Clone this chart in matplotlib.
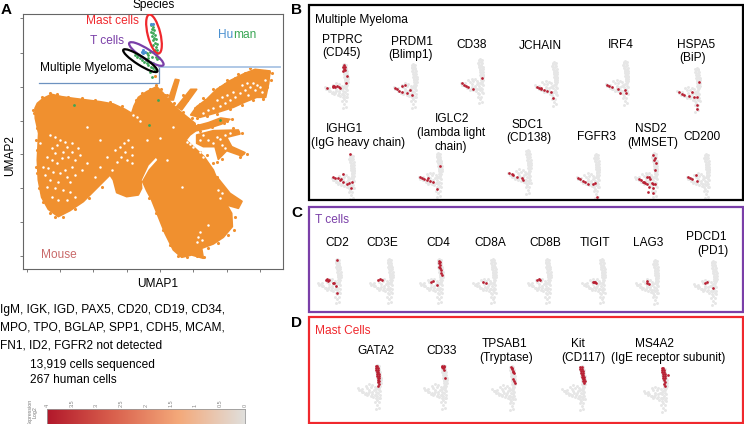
import matplotlib
matplotlib.use("Agg")
import matplotlib.pyplot as plt
from matplotlib.patches import Polygon, Ellipse, Rectangle
from matplotlib.colors import LinearSegmentedColormap
import numpy as np

plt.rcParams['font.family'] = ['Liberation Sans', 'DejaVu Sans']

W, H = 744, 424

# main UMAP (units: 100 = one tick)
x_ticks = [80, 180, 280, 380, 480, 580, 680, 780]
y_ticks = [55, 158, 260, 362, 463, 565, 667, 768]

mouse_outline = [(105,325),(112,310),(130,295),(155,283),(185,290),(220,295),(260,300),(300,305),
    (340,312),(375,328),(395,340),(402,318),(415,292),(440,275),(470,260),(490,280),(510,305),
    (535,330),(560,350),(585,370),(588,392),(570,405),(558,420),(585,445),(612,470),(640,510),
    (660,560),(672,600),(695,640),(697,680),(670,712),(640,732),(605,745),(610,775),
    (575,765),(545,772),(520,750),(495,700),(475,650),(455,600),(440,572),(428,545),(448,510),
    (475,480),(468,470),(444,495),(423,540),(425,565),(415,585),(380,590),(350,578),(340,540),
    (330,525),(290,565),(250,605),(210,632),(175,650),(145,628),(125,592),(115,540),(112,480),
    (116,400),(106,355)]

wing_outline = [(572,345),(590,320),(620,298),(650,268),(690,242),(730,222),(765,208),(810,213),
    (806,250),(797,292),(770,292),(735,306),(700,322),(650,338),(600,352)]
mid_arm = [(588,378),(625,368),(662,354),(690,358),(665,372),(625,385),(590,392)]
low_arm = [(590,405),(640,392),(715,390),(720,402),(680,412),(695,440),(735,458),(725,468),(680,452),
    (655,478),(645,440),(610,440),(590,430)]
spike_a = [(526,238),(537,240),(520,300),(505,300)]
spike_b = [(572,268),(590,268),(545,330),(530,320)]
right_bump = [(650,530),(690,580),(726,604),(715,625),(680,615),(650,580)]

mouse_dots = [(585,325),(600,312),(615,300),(630,290),(645,275),(660,262),(675,252),(690,245),
    (705,235),(720,228),(735,220),(750,215),(765,210),(780,213),(795,212),(808,215),
    (800,260),(795,280),(790,290),(775,285),(663,362),(680,362),(715,395),(730,460),
    (465,228),(600,455),(620,465),(640,490),(700,595),(560,300),(548,285),(495,285),(500,300),
    # rough edge of the big mass and the arms
    (103,340),(100,330),(110,365),(112,385),(108,420),(110,450),(107,500),(112,520),(118,565),
    (128,605),(150,640),(165,652),(190,650),(225,628),(268,595),(305,560),(125,292),(150,280),
    (170,283),(205,290),(245,295),(285,300),(330,305),(365,318),(408,300),(425,280),(450,268),
    (468,255),(482,268),(500,285),(522,310),(548,335),(575,355),(593,375),(598,480),(625,500),
    (650,530),(668,570),(680,610),(705,650),(703,690),(685,705),(655,728),(625,745),(612,770),
    (590,768),(560,772),(535,768),(510,735),(490,690),(468,640),(448,595),(590,355),(620,348),
    (650,342),(690,328),(725,316),(760,300),(790,297),(812,240),(815,220),(750,205),(715,222),
    (680,240),(640,268),(610,295),(600,392),(635,382),(672,368),(695,358),(700,385),(725,398),
    (740,462),(720,470),(665,478),(650,485)]

mouse_holes = [(150,405),(165,412),(180,420),(195,425),(170,435),(155,445),(200,440),(215,430),
    (140,470),(155,480),(172,490),(185,475),(205,470),(225,480),(240,465),(215,500),(195,510),
    (160,515),(135,525),(150,540),(175,545),(200,530),(225,525),(245,510),(260,490),(190,570),
    (210,575),(225,590),(175,600),(155,590),(300,500),(285,530),(320,470),(345,450),(360,440),
    (372,430),(385,420),(395,440),(375,455),(362,470),(380,480),(395,465),(350,485),(335,510),
    (400,345),(410,352),(420,362),(560,425),(570,432),(580,440),(600,455),(610,470),(655,570),
    (665,580),(660,595),(600,695),(595,710),(605,720),(590,725),(625,675),(520,380),(480,415),
    (440,420),(300,420),(260,380),(545,560),(500,480),(120,430),(128,500),(145,505),(165,460),
    (190,455),(215,455),(235,445),(210,545),(180,520),(140,560),(165,565),(200,600),(395,490),
    # wing gaps
    (760,250),(770,255),(780,262),(750,262),(765,270),(785,275),(735,270),(720,280),(705,290),(690,300),
    (675,310),(660,318),(700,275),(680,285),(640,325),(625,330),(610,338),(740,250),(725,255),(650,300),
    (665,290),(795,240),(745,285),
    # low arm gaps
    (610,405),(625,420),(650,410),(660,418),(675,405),(690,400),(665,435),(675,445),(600,420),(640,430)]

human_green = [(452,75),(458,80),(455,88),(462,90),(452,97),(460,100),(465,105),(455,108),(462,115),
    (468,118),(458,120),(465,128),(470,132),(460,135),(468,142),(472,150),(465,150),(458,155),
    (470,160),(405,165),(412,172),(420,175),(415,165),(425,180),(432,185),(440,190),(445,195),
    (452,200),(460,205),(438,180),(450,185),(460,190),(470,178),(478,175),(468,170),(455,170),
    (445,165),(440,160),(450,155),(465,210),(455,230),(450,215),(445,175),(222,315),(475,300),
    (447,376),(660,361)]
human_blue = [(425,155),(430,150),(435,155),(428,160),(452,73),(458,72)]

# small expression panels: grey cells shared by all of them
template = [(0,0),(-3,8),(3,8),(-2,16),(4,16),(0,24),(5,24),(1,32),(6,32),(2,40),(7,40),(3,48),(8,48),
    (4,56),(8,62),(5,68),(-4,3),(5,3),(-5,12),(6,12),(-3,22),(8,22),(-1,30),(9,30),(0,38),(10,38),
    (1,46),(10,46),(2,54),(10,54),(3,62),
    (-58,70),(-50,75),(-42,80),(-35,85),(-28,88),(-20,92),(-12,96),(-5,100),
    (-54,76),(-46,81),(-38,86),(-30,91),(-24,82),(-16,87),(-8,90),
    (-35,62),(-25,58),(-15,60),(-8,65),(0,70),(5,75),(-30,68),(-20,66),(-3,80),(3,85),(8,78),
    (0,92),(5,98),(-2,105),(4,112),(0,120),(5,128),(-4,132),(-45,72),(-15,80),(-25,75),(7,90),
    (-4,90),(9,100),(-6,112),(-10,75),(-5,72)]

panel_genes = ["PTPRC","PRDM1","CD38","JCHAIN","IRF4","HSPA5",
    "IGHG1","IGLC2","SDC1","FGFR3","NSD2","CD200",
    "CD2","CD3E","CD4","CD8A","CD8B","TIGIT","LAG3","PDCD1",
    "GATA2","CD33","TPSAB1","Kit","MS4A2"]
panel_xy = [(344.3,64),(413.3,64),(480,59.3),(554,61.7),(625,60.7),(696.7,67.7),
    (351,155),(438.3,153.3),(527.7,150),(596,154),(654,153.3),(706,154),
    (337.3,259.3),(389.3,259.3),(439.3,259.3),(492.7,259.3),(547.3,259.3),(601.7,259.3),(655,260),(713.3,260.7),
    (377.3,365),(443.3,365),(511.7,366),(581.7,366),(663.3,367.7)]
panel_red = [
    [(0,3),(-3,8),(3,8),(0,14),(-3,20),(3,18),(7,36),(5,56),(-53,73),(-35,67),(-30,65),(-27,70),(-22,66),(-17,70),(-12,73),(-33,70)],
    [(-55,73),(-48,76),(-42,80),(-35,83),(-25,63),(-35,66),(-18,88),(-5,93),(-10,78)],
    [(-55,72),(-48,76),(-42,80),(-35,84),(-22,90),(6,55)],
    [(-52,75),(-45,78),(-38,82),(-30,85),(-20,87),(-10,90),(-2,110),(-40,80)],
    [(-53,74),(-47,77),(-40,80),(-20,86),(0,88),(3,98),(-15,98)],
    [(-52,74),(-45,79),(-38,82),(-15,74),(-22,85),(-8,87),(0,87),(0,112),(0,125),(7,42)],
    [(-3,-2),(-53,65),(-47,68),(-40,70),(-33,75),(-23,80),(-23,57),(-5,83),(2,80),(-1,100),(-13,87),(-30,73)],
    [(5,37),(-55,70),(-48,73),(-42,76),(-35,80),(-25,82),(-15,85),(-30,75),(-5,107)],
    [(-55,70),(-48,73),(-43,75),(-33,80),(-18,85),(-15,90)],
    [(-53,73),(-47,76),(-40,80),(-33,85),(-23,90),(-8,90),(-3,86),(2,128)],
    [(-2,5),(3,15),(0,20),(6,30),(4,50),(-44,77),(-38,80),(-34,85),(-28,90),(-20,92),(-14,100),(-22,70),(-15,72),(-12,77),(-2,93),(3,93),(-17,115),(-2,105),(-4,120),(-30,85),(-5,90)],
    [(-53,70),(-47,73),(-43,75),(-30,63),(-26,81)],
    [(-2,2),(-34,62),(-30,60),(-27,65),(-14,70),(-9,70),(-4,80),(0,102),(-25,62)],
    [(-28,59),(-33,62),(-23,62)],
    [(0,4),(2,8),(-1,12),(2,18),(0,24),(4,32),(7,47),(-25,67),(-20,65),(-8,77),(3,26),(4,40)],
    [(-30,67),(-20,70)],
    [(-32,62),(-26,60),(-22,62)],
    [(-27,69),(-20,67),(-23,67),(-17,72)],
    [(-25,63),(-23,70),(-17,73)],
    [(-25,68),(-18,63),(-2,83)],
    [(-4,2),(0,2),(-3,8),(2,8),(-3,14),(2,14),(-2,20),(3,20),(-1,26),(4,26),(0,32),(5,32),(1,38),(6,38),(2,44),(6,48),(3,52),(5,56),(3,62)],
    [(-3,2),(2,2),(-4,6),(1,6),(-2,10),(5,38),(3,14)],
    [(-2,2),(2,5),(0,9),(5,14),(4,18),(7,22),(5,38),(8,44),(11,50)],
    [(-5,3),(0,3),(-4,9),(1,9),(-3,15),(3,15),(-2,21),(4,21),(0,27),(5,27),(1,33),(6,33),(3,39),(8,39),(5,45),(10,45),(8,52),(3,36)],
    [(-5,2),(0,2),(-4,8),(1,8),(-3,14),(3,14),(-2,20),(4,20),(-1,26),(5,26),(15,22),(0,32),(6,32),(1,38),(6,44),(3,50),(6,56)],
]

gene_labels = [
    ("PTPRC",342.7,40),("(CD45)",341.7,53),("PRDM1",411.7,42),("(Blimp1)",410.7,55),("CD38",471.7,45),
    ("JCHAIN",540,46),("IRF4",620.7,45),("HSPA5",696,45),("(BiP)",693,58),
    ("IGHG1",344.3,129),("(IgG heavy chain)",358,142.7),("IGLC2",451.7,119),("(lambda light",451,133),
    ("chain)",450.7,147),("SDC1",527,125),("(CD138)",529,138),("FGFR3",596.7,137),("NSD2",650.7,129),
    ("(MMSET)",652.7,143),("CD200",702,137),
    ("CD2",337,243),("CD3E",382.7,243),("CD4",438,243),("CD8A",490,243),("CD8B",545.7,243),
    ("TIGIT",595,243),("LAG3",648,243),("PDCD1",706.7,236.7),("(PD1)",712.7,250.7),
    ("GATA2",375.7,350.7),("CD33",441.7,350.7),("TPSAB1",504.3,344),("(Tryptase)",505.7,358),
    ("Kit",578.3,344.3),("(CD117)",583.3,358.3),("MS4A2",654,344.3),("(IgE receptor subunit)",668.3,358.3),
]

cbar_ticks = [4, 3.5, 3, 2.5, 2, 1.5, 1, 0.5, 0]
cbar_labels = ["4", "3.5", "3", "2.5", "2", "1.5", "1", "0.5", "0"]

ORANGE = "#f0902f"
GREEN = "#3aa655"
BLUE = "#4a90d0"
CRED = "#b81f32"
GREY = "#e6e6e6"
PURPLE = "#7a3fa8"
RED = "#f0282d"


def px_axes(x0, y0, x1, y1, **kw):
    return fig.add_axes([x0 / W, 1 - y1 / H, (x1 - x0) / W, (y1 - y0) / H], **kw)


fig = plt.figure(figsize=(W / 100, H / 100), dpi=100)

# A: species umap
ax = px_axes(23.3, 14, 282.7, 269.3)
ax.set_xlim(70, 848)
ax.set_ylim(808, 42)
for shape in [mouse_outline, wing_outline, mid_arm, low_arm, spike_a, spike_b, right_bump]:
    ax.add_patch(Polygon(shape, closed=True, facecolor=ORANGE, edgecolor=ORANGE,
                         linewidth=1.2, joinstyle="round", zorder=1))
ax.scatter(*zip(*mouse_dots), s=5, color=ORANGE, linewidths=0, zorder=2)
ax.scatter(*zip(*mouse_holes), s=3.2, color="white", linewidths=0, zorder=2)
ax.scatter(*zip(*human_green), s=4, color=GREEN, linewidths=0, zorder=3)
ax.scatter(*zip(*human_blue), s=5, color=BLUE, linewidths=0, zorder=3)
ax.plot([118, 478, 478], [250, 250, 200], color="#6d92c0", lw=0.9, zorder=4)
ax.plot([478, 840], [200, 200], color="#a9c4e4", lw=1.3, zorder=4)
ax.add_patch(Ellipse((462, 102), 120, 38, angle=76, fill=False, ec=RED, lw=1.6, zorder=5))
ax.add_patch(Ellipse((439, 162), 122, 30, angle=33, fill=False, ec=PURPLE, lw=1.6, zorder=5))
ax.add_patch(Ellipse((421, 182), 121, 26, angle=32.5, fill=False, ec="black", lw=1.6, zorder=5))
ax.set_xticks(x_ticks)
ax.set_yticks(y_ticks)
ax.tick_params(labelbottom=False, labelleft=False, length=2.5, width=0.6, color="#666666")
for s in ax.spines.values():
    s.set_color("#666666")
    s.set_linewidth(0.8)

# small panels
for gene, (px, py), red in zip(panel_genes, panel_xy, panel_red):
    a = px_axes(px - 64 / 3, py - 8 / 3, px + 30 / 3, py + 138 / 3)
    a.set_xlim(-64, 30)
    a.set_ylim(138, -8)
    a.axis("off")
    a.scatter(*zip(*template), s=4.5, color=GREY, linewidths=0)
    a.scatter(*zip(*red), s=3.8, color=CRED, linewidths=0)

# colour bar
cb = px_axes(47, 409, 245, 424)
cmap = LinearSegmentedColormap.from_list("expr", ["#e0dfdc", "#f4a97a", "#d9604d", "#b2182b"])
cb.imshow(np.linspace(4, 0, 256)[None, :], aspect="auto", cmap=cmap, extent=[4, 0, 0, 1])
cb.set_xlim(4, 0)
cb.set_yticks([])
cb.set_xticks(cbar_ticks)
cb.set_xticklabels(cbar_labels, rotation=90, fontsize=4, color="#888888")
cb.xaxis.tick_top()
cb.tick_params(length=0, pad=1.5)
for s in cb.spines.values():
    s.set_color("#999999")
    s.set_linewidth(0.6)

# text and boxes on a full size overlay
ov = fig.add_axes([0, 0, 1, 1], zorder=10)
ov.set_xlim(0, W)
ov.set_ylim(H, 0)
ov.axis("off")
ov.patch.set_alpha(0)

FS = 8.6
ov.add_patch(Rectangle((309.3, 5.3), 433.4, 194.7, fill=False, ec="black", lw=1.6))
ov.add_patch(Rectangle((309.3, 206.7), 433.4, 105, fill=False, ec=PURPLE, lw=1.6))
ov.add_patch(Rectangle((309.3, 316.7), 433.4, 106, fill=False, ec=RED, lw=1.6))

for letter, x, y in [("A", 6, 10), ("B", 297, 10), ("C", 297, 213), ("D", 297, 323)]:
    ov.text(x, y, letter, fontsize=11, fontweight="bold", ha="center", va="center")

ov.text(154, 5, "Species", fontsize=FS, ha="center", va="center")
ov.text(112, 21, "Mast cells", fontsize=FS, color=RED, ha="center", va="center")
ov.text(107, 41, "T cells", fontsize=FS, color=PURPLE, ha="center", va="center")
ov.text(40, 68, "Multiple Myeloma", fontsize=FS, ha="left", va="center")
ov.text(218, 35, "Hu", fontsize=FS, color=BLUE, ha="left", va="center")
ov.text(233, 35, "man", fontsize=FS, color=GREEN, ha="left", va="center")
ov.text(59, 255, "Mouse", fontsize=FS, color="#c96a6a", ha="center", va="center")
ov.text(10, 155, "UMAP2", fontsize=FS, rotation=90, ha="center", va="center")
ov.text(158, 284, "UMAP1", fontsize=FS, ha="center", va="center")

ov.text(0, 310, "IgM, IGK, IGD, PAX5, CD20, CD19, CD34,", fontsize=FS, va="center")
ov.text(0, 328, "MPO, TPO, BGLAP, SPP1, CDH5, MCAM,", fontsize=FS, va="center")
ov.text(0, 346, "FN1, ID2, FGFR2 not detected", fontsize=FS, va="center")
ov.text(30, 365, "13,919 cells sequenced", fontsize=FS, va="center")
ov.text(30, 380, "267 human cells", fontsize=FS, va="center")
ov.text(33, 412, "Expression\nLog2", fontsize=3.8, color="#777777", rotation=90, ha="center", va="center",
        linespacing=1.0)

ov.text(314.7, 20, "Multiple Myeloma", fontsize=FS, va="center")
ov.text(315, 220, "T cells", fontsize=FS, color=PURPLE, va="center")
ov.text(315, 331, "Mast Cells", fontsize=FS, color=RED, va="center")
for label, x, y in gene_labels:
    ov.text(x, y, label, fontsize=FS, ha="center", va="center")

fig.savefig("out.png", dpi=100)
